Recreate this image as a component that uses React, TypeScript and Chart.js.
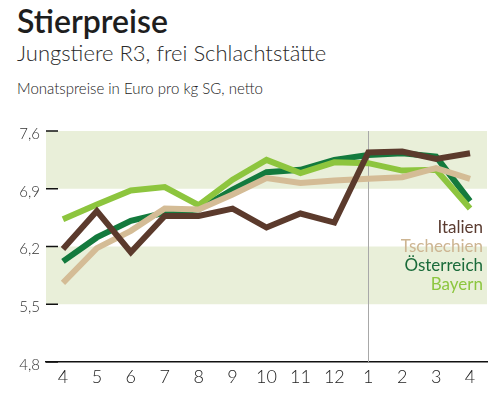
import Chart from 'chart.js/auto';
import { useEffect, useRef } from 'react';

const months = ['4', '5', '6', '7', '8', '9', '10', '11', '12', '1', '2', '3', '4'];
const yTicks = [4.8, 5.5, 6.2, 6.9, 7.6];
const bands = [[6.9, 7.6], [5.5, 6.2]];

const italien = [6.17, 6.63, 6.13, 6.57, 6.57, 6.66, 6.43, 6.6, 6.49, 7.34, 7.35, 7.26, 7.33];
const tschechien = [5.76, 6.18, 6.39, 6.66, 6.65, 6.83, 7.03, 6.97, 7.0, 7.02, 7.04, 7.15, 7.02];
const oesterreich = [6.02, 6.31, 6.51, 6.61, 6.65, 6.89, 7.1, 7.13, 7.25, 7.31, 7.33, 7.29, 6.75];
const bayern = [6.53, 6.71, 6.88, 6.92, 6.7, 7.01, 7.25, 7.09, 7.22, 7.21, 7.12, 7.13, 6.66];

const seriesNames = ['Italien', 'Tschechien', 'Österreich', 'Bayern'];
const seriesColors = ['#5b3a2c', '#d4bc96', '#137a3d', '#8dc53e'];
const textColors = ['#5a3b30', '#cdb592', '#1a6b3a', '#8cc63f'];
const drawOrder = [0, 1, 3, 2];

const font = 'Lato, "Open Sans", sans-serif';

export default function App() {
    const chartRef = useRef<HTMLCanvasElement>(null);

    useEffect(() => {
        const ctx = chartRef.current?.getContext('2d');
        if (!ctx) return;
        const values = [italien, tschechien, oesterreich, bayern];

        const chart = new Chart(ctx, {
            type: 'line',
            data: {
                labels: months,
                datasets: values.map((d, i) => ({
                    label: seriesNames[i],
                    data: d,
                    borderColor: seriesColors[i],
                    backgroundColor: seriesColors[i],
                    borderWidth: 6,
                    pointRadius: 0,
                    tension: 0,
                    order: drawOrder[i],
                })),
            },
            options: {
                responsive: false,
                animation: false,
                layout: { padding: { top: 131, right: 17, left: 0, bottom: 0 } },
                plugins: {
                    legend: { display: false },
                    tooltip: { enabled: false },
                },
                scales: {
                    x: {
                        offset: true,
                        grid: { display: false, drawTicks: false },
                        border: { display: true, color: '#111', width: 1.5 },
                        ticks: {
                            color: '#222',
                            padding: 4,
                            font: { family: font, size: 18, weight: 300 },
                            maxRotation: 0,
                        },
                        afterFit: (scale: any) => {
                            scale.height = 38;
                        },
                    },
                    y: {
                        min: 4.8,
                        max: 7.6,
                        grid: { display: false, drawTicks: false },
                        border: { display: false },
                        afterBuildTicks: (scale: any) => {
                            scale.ticks = yTicks.map((v) => ({ value: v }));
                        },
                        ticks: {
                            color: '#333',
                            padding: 6,
                            labelOffset: 3,
                            font: { family: font, size: 15, weight: 300 },
                            callback: (value: any) => Number(value).toFixed(1).replace('.', ','),
                        },
                        afterFit: (scale: any) => {
                            scale.width = 46;
                        },
                    },
                },
            },
            plugins: [
                {
                    id: 'bands',
                    beforeDatasetsDraw: (c: any) => {
                        const { ctx, chartArea, scales } = c;
                        const y = scales.y;
                        const x = scales.x;
                        ctx.save();
                        ctx.fillStyle = '#e9efd9';
                        bands.forEach(([lo, hi]) => {
                            const top = y.getPixelForValue(hi);
                            const bot = y.getPixelForValue(lo);
                            ctx.fillRect(chartArea.left, top, chartArea.right - chartArea.left, bot - top);
                        });
                        // year change marker
                        const xp = Math.round(x.getPixelForValue(9)) + 0.5;
                        ctx.strokeStyle = '#a8a8a8';
                        ctx.lineWidth = 1;
                        ctx.beginPath();
                        ctx.moveTo(xp, chartArea.top);
                        ctx.lineTo(xp, chartArea.bottom);
                        ctx.stroke();
                        // short tick marks
                        ctx.strokeStyle = '#111';
                        ctx.lineWidth = 1.5;
                        yTicks.forEach((v) => {
                            const yp = y.getPixelForValue(v);
                            ctx.beginPath();
                            ctx.moveTo(chartArea.left, yp);
                            ctx.lineTo(chartArea.left + 12, yp);
                            ctx.stroke();
                        });
                        ctx.restore();
                    },
                },
                {
                    id: 'endLabels',
                    afterDraw: (c: any) => {
                        const { ctx, chartArea } = c;
                        ctx.save();
                        ctx.font = `17px ${font}`;
                        ctx.textAlign = 'right';
                        ctx.textBaseline = 'middle';
                        seriesNames.forEach((name, i) => {
                            ctx.fillStyle = textColors[i];
                            ctx.fillText(name, chartArea.right - 4, 228 + i * 19);
                        });
                        ctx.restore();
                    },
                },
            ],
        });

        return () => {
            chart.destroy();
        };
    }, []);

    return (
        <div style={{ position: 'fixed', left: 0, top: 0, width: 504, height: 400, background: '#fff', fontFamily: font }}>
            <div style={{ position: 'absolute', left: 17, top: 1, fontSize: 32, fontWeight: 600, color: '#1e1e1e' }}>Stierpreise</div>
            <div style={{ position: 'absolute', left: 17, top: 39, fontSize: 22, fontWeight: 300, color: '#2a2a2a' }}>
                Jungstiere R3, frei Schlachtstätte
            </div>
            <div style={{ position: 'absolute', left: 17, top: 79, fontSize: 15, fontWeight: 300, color: '#222' }}>
                Monatspreise in Euro pro kg SG, netto
            </div>
            <canvas ref={chartRef} width={504} height={400} style={{ position: 'absolute', left: 0, top: 0 }} />
        </div>
    );
}
